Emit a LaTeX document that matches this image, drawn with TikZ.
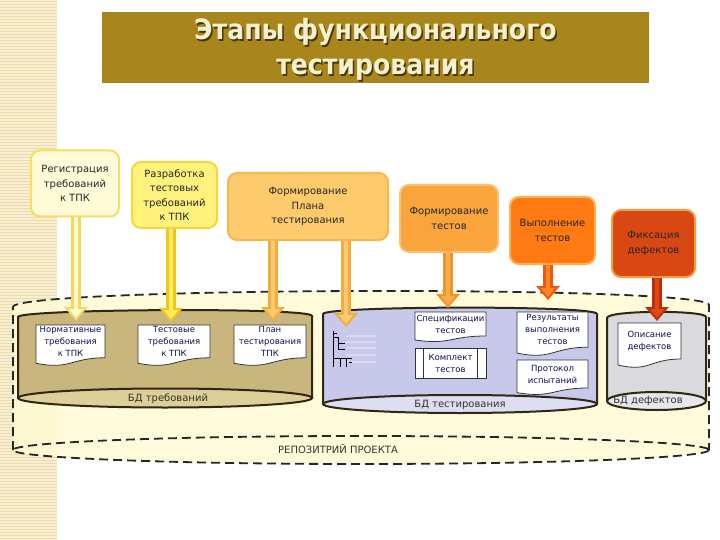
\documentclass[tikz,border=0pt]{standalone}
\usepackage{fontspec}
\setmainfont{DejaVu Sans}
\newfontfamily\headfont{DejaVu Sans Condensed}
\usetikzlibrary{arrows.meta}

\definecolor{stripebg}{RGB}{248,239,210}
\definecolor{stripeln}{RGB}{236,220,172}
\definecolor{titlebg}{RGB}{168,134,28}
\definecolor{titlecream}{RGB}{246,240,204}
\definecolor{titleshade}{RGB}{70,55,15}
\definecolor{repofill}{RGB}{255,251,212}
\definecolor{reqbody}{RGB}{201,182,124}
\definecolor{reqbase}{RGB}{222,207,152}
\definecolor{testbody}{RGB}{200,200,234}
\definecolor{testbase}{RGB}{222,222,243}
\definecolor{defbody}{RGB}{218,218,222}
\definecolor{defbase}{RGB}{232,232,236}
\definecolor{dbdark}{RGB}{48,38,22}
\definecolor{doctext}{RGB}{16,16,80}
% stage boxes
\definecolor{st1fill}{RGB}{255,251,214}\definecolor{st1line}{RGB}{248,220,104}
\definecolor{st2fill}{RGB}{255,242,124}\definecolor{st2line}{RGB}{245,214,60}
\definecolor{st3fill}{RGB}{253,203,107}\definecolor{st3line}{RGB}{246,184,74}
\definecolor{st4fill}{RGB}{249,165,59}\definecolor{st4line}{RGB}{251,192,112}
\definecolor{st5fill}{RGB}{255,122,18}\definecolor{st5line}{RGB}{255,176,80}
\definecolor{st6fill}{RGB}{217,72,18}\definecolor{st6line}{RGB}{240,160,64}
% arrows
\definecolor{a1out}{RGB}{245,212,96}\definecolor{a1in}{RGB}{255,248,200}
\definecolor{a2out}{RGB}{240,198,30}\definecolor{a2in}{RGB}{255,238,90}
\definecolor{a3out}{RGB}{240,172,60}\definecolor{a3in}{RGB}{250,202,112}
\definecolor{a5out}{RGB}{238,148,40}\definecolor{a5in}{RGB}{250,172,72}
\definecolor{a6out}{RGB}{238,88,10}\definecolor{a6in}{RGB}{255,132,40}
\definecolor{a7out}{RGB}{185,48,10}\definecolor{a7in}{RGB}{222,72,20}

\tikzset{
  stage/.style={draw=#1line, fill=#1fill, line width=2pt, rounded corners=9pt,
    align=center, text=black!85, font=\fontsize{10}{14.5}\selectfont, inner sep=0pt},
  feed/.style={line width=10pt, draw=#1out, -{Triangle[width=23pt,length=14pt]},
    postaction={draw=#1in, line width=4.5pt, shorten >=3pt, -{Triangle[width=14pt,length=9pt]}}},
  dbline/.style={draw=dbdark, line width=2pt},
  repoline/.style={draw=black!85, line width=1.8pt, dash pattern=on 9pt off 5pt},
  dblabel/.style={font=\fontsize{10}{12}\selectfont, text=black!80, inner sep=0pt},
  docline/.style={draw=black!80, fill=white, line width=0.8pt},
  doctext/.style={align=center, text=doctext, font=\fontsize{8.5}{12}\selectfont, inner sep=0pt},
  titletxt/.style={align=center, font=\headfont\bfseries\fontsize{28}{35}\selectfont, inner sep=0pt}
}

% document with wavy bottom: name, left x, top y, right x, height, text
\newcommand{\docnode}[6]{%
  \filldraw[docline] (#2,#3) -- (#4,#3) -- (#4,{#3+0.8*#5})
    .. controls ({(#2+#4)/2},{#3+0.8*#5}) and ({(#2+#4)/2},{#3+1.1*#5}) .. (#2,{#3+0.934*#5}) -- cycle;
  \node[doctext] (#1) at ({(#2+#4)/2},{#3+0.4*#5}) {#6};}

\begin{document}
\begin{tikzpicture}[x=1pt,y=-1pt]
  \useasboundingbox (0,0) rectangle (720,540);
  \fill[white] (0,0) rectangle (720,540);
  % left stripe
  \fill[stripebg] (0,0) rectangle (57,540);
  \foreach \y in {1.5,4.5,...,540} \draw[stripeln, line width=1.2pt] (0,\y) -- (57,\y);

  % title
  \node[fill=titlebg, minimum width=547pt, minimum height=71pt, inner sep=0pt] (title) at (375.5,47.5) {};
  \node[titletxt, text=titleshade] (titleshadow) at (377,51) {Этапы функционального\\тестирования};
  \node[titletxt, text=titlecream] (titletext) at (375.5,49.5) {Этапы функционального\\тестирования};

  % repository
  \fill[repofill, fill opacity=0.85] (13,307) .. controls (13,287) and (709,285) .. (709,305)
    -- (709,450) arc[start angle=0, end angle=180, x radius=348, y radius=14] -- cycle;
  \draw[repoline] (13,450) -- (13,307) .. controls (13,287) and (709,285) .. (709,305) -- (709,450);
  \draw[repoline] (361,450) ellipse [x radius=348, y radius=14];
  \node[dblabel] (repo) at (338,449) {РЕПОЗИТРИЙ ПРОЕКТА};

  % requirements db
  \fill[reqbody] (18,317) .. controls (18,309) and (312,307) .. (312,316)
    -- (312,398) arc[start angle=0, end angle=180, x radius=147, y radius=9.5] -- cycle;
  \filldraw[dbline, fill=reqbase] (165,398) ellipse [x radius=147, y radius=9.5];
  \draw[dbline] (18,398) -- (18,317) .. controls (18,309) and (312,307) .. (312,316) -- (312,398);
  \node[dblabel] (reqdb) at (168,399) {БД требований};

  % testing db
  \fill[testbody] (323,314) .. controls (323,306) and (597,305) .. (597,314)
    -- (597,404) arc[start angle=0, end angle=180, x radius=137, y radius=9] -- cycle;
  \filldraw[dbline, fill=testbase] (460,404) ellipse [x radius=137, y radius=9];
  \draw[dbline] (323,404) -- (323,314) .. controls (323,306) and (597,305) .. (597,314) -- (597,404);
  \node[dblabel] (testdb) at (460,405) {БД тестирования};

  % defects db
  \fill[defbody] (607,318) .. controls (607,310) and (706,310) .. (706,317)
    -- (706,401) arc[start angle=0, end angle=180, x radius=49.5, y radius=9] -- cycle;
  \filldraw[dbline, fill=defbase] (656.5,401) ellipse [x radius=49.5, y radius=9];
  \draw[dbline] (607,401) -- (607,318) .. controls (607,310) and (706,310) .. (706,317) -- (706,401);
  \node[dblabel] (defdb) at (648,401) {БД дефектов};

  % documents
  \docnode{normdoc}{36}{325}{105}{41}{Нормативные\\требования\\к ТПК}
  \docnode{reqdoc}{138}{325}{210}{41}{Тестовые\\требования\\к ТПК}
  \docnode{plandoc}{234}{325}{306}{41}{План\\тестирования\\ТПК}
  \docnode{specdoc}{415}{312}{486}{30}{Спецификации\\тестов}
  \docnode{resdoc}{517}{312}{588}{44}{Результаты\\выполнения\\тестов}
  \docnode{protdoc}{517}{360}{588}{35}{Протокол\\испытаний}
  \docnode{defdoc}{618}{323}{681}{45}{Описание\\дефектов}
  \node[docline, doctext, minimum width=71pt, minimum height=30pt] (kit) at (450.5,363) {Комплект\\тестов};
  \draw[draw=black!80, line width=0.8pt] ([xshift=9pt]kit.north west) -- ([xshift=9pt]kit.south west);
  \draw[draw=black!80, line width=0.8pt] ([xshift=-9pt]kit.north east) -- ([xshift=-9pt]kit.south east);

  % plan tree
  \foreach \y in {336,342,348,355,362} \draw[white!30!testbody, line width=1.5pt] (346,\y) -- (376,\y);
  \draw[black, line width=0.9pt] (333,331) -- (333,367) (333,333) -- (337,333)
    (333,337) -- (338,337) (338,337) -- (338,350) (338,343) -- (345,343) (338,349) -- (345,349)
    (333,358) -- (352,358) (340,358) -- (340,367) (346,358) -- (346,367) (349,362) -- (352,362);

  % stages
  \node[stage=st1, minimum width=88pt, minimum height=66pt] (s1) at (75,183.5) {Регистрация\\требований\\к ТПК};
  \node[stage=st2, minimum width=85pt, minimum height=66pt] (s2) at (174.5,195) {Разработка\\тестовых\\требований\\к ТПК};
  \node[stage=st3, minimum width=160pt, minimum height=67pt] (s3) at (308,206.5) {Формирование\\Плана\\тестирования};
  \node[stage=st4, minimum width=98pt, minimum height=67pt] (s4) at (449,218.5) {Формирование\\тестов};
  \node[stage=st5, minimum width=85pt, minimum height=67pt] (s5) at (552.5,230.5) {Выполнение\\тестов};
  \node[stage=st6, minimum width=83pt, minimum height=67pt] (s6) at (653.5,243.5) {Фиксация\\дефектов};

  % arrows into the repository
  \coordinate (t1) at (76,321);
  \coordinate (t2) at (171,322);
  \coordinate (t3) at (273,321);
  \coordinate (t4) at (346,327);
  \coordinate (t5) at (448,308);
  \coordinate (t6) at (548,300);
  \coordinate (t7) at (657,321);
  \draw[feed=a1] (s1.south -| t1) -- (t1);
  \draw[feed=a2] (s2.south -| t2) -- (t2);
  \draw[feed=a3] (s3.south -| t3) -- (t3);
  \draw[feed=a3] (s3.south -| t4) -- (t4);
  \draw[feed=a5] (s4.south -| t5) -- (t5);
  \draw[feed=a6] (s5.south -| t6) -- (t6);
  \draw[feed=a7] (s6.south -| t7) -- (t7);
\end{tikzpicture}
\end{document}
